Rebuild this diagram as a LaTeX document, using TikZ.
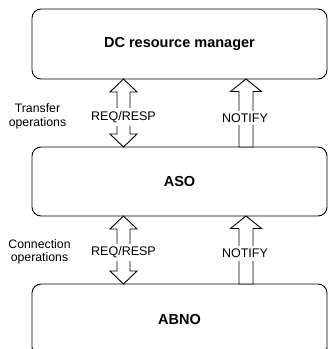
\documentclass[tikz,border=0pt]{standalone}
\usepackage{fontspec}
\setmainfont{Liberation Sans}
\begin{document}
\begin{tikzpicture}[x=1pt,y=-1pt,
  box/.style={draw, line width=0.9pt, rounded corners=9pt, minimum width=295pt, inner sep=0pt,
    font=\fontsize{14.5}{16}\selectfont\bfseries},
  blockarrow/.style={draw, line width=0.9pt, fill=white, line join=miter},
  lbl/.style={fill=white, inner sep=3pt, font=\fontsize{12.5}{14}\selectfont},
  side/.style={align=center, inner sep=0pt, font=\fontsize{12.3}{13.5}\selectfont}]
\useasboundingbox (0,0) rectangle (330,349);
\clip (0,0) rectangle (330,349);
% boxes
\node[box, minimum height=70pt] (dc) at (179.5,44) {DC resource manager};
\node[box, minimum height=69pt] (aso) at (179.5,181.5) {ASO};
\node[box, minimum height=72pt] (abno) at (179.5,320) {ABNO};
% double arrow REQ/RESP between dc and aso
\newcommand\mydbl[3]{% center x, top y, bottom y
  \draw[blockarrow] (#1,#2) -- ++(13.5,13) -- ++(-7,0) -- (#1+6.5,#3-13) -- ++(7,0) -- (#1,#3)
    -- ++(-13.5,-13) -- ++(7,0) -- (#1-6.5,#2+13) -- ++(-7,0) -- cycle;}
\newcommand\mysgl[3]{% center x, top y, bottom y
  \draw[blockarrow] (#1,#2) -- ++(15.5,12.5) -- ++(-8.5,0) -- (#1+7,#3) -- (#1-7,#3)
    -- (#1-7,#2+12.5) -- ++(-8.5,0) -- cycle;}
\mydbl{123.5}{79}{147}
\mysgl{246}{79}{147}
\mydbl{123.5}{216}{284}
\mysgl{246}{216}{284}
% arrow labels
\node[lbl] (rr1) at (123.5,117) {REQ/RESP};
\node[lbl] (nt1) at (245,118) {NOTIFY};
\node[lbl] (rr2) at (123.5,252.5) {REQ/RESP};
\node[lbl] (nt2) at (245,253.5) {NOTIFY};
% side labels
\node[side] (tr) at (37.5,116.5) {Transfer\\operations};
\node[side] (co) at (39.5,252) {Connection\\operations};
\end{tikzpicture}
\end{document}
